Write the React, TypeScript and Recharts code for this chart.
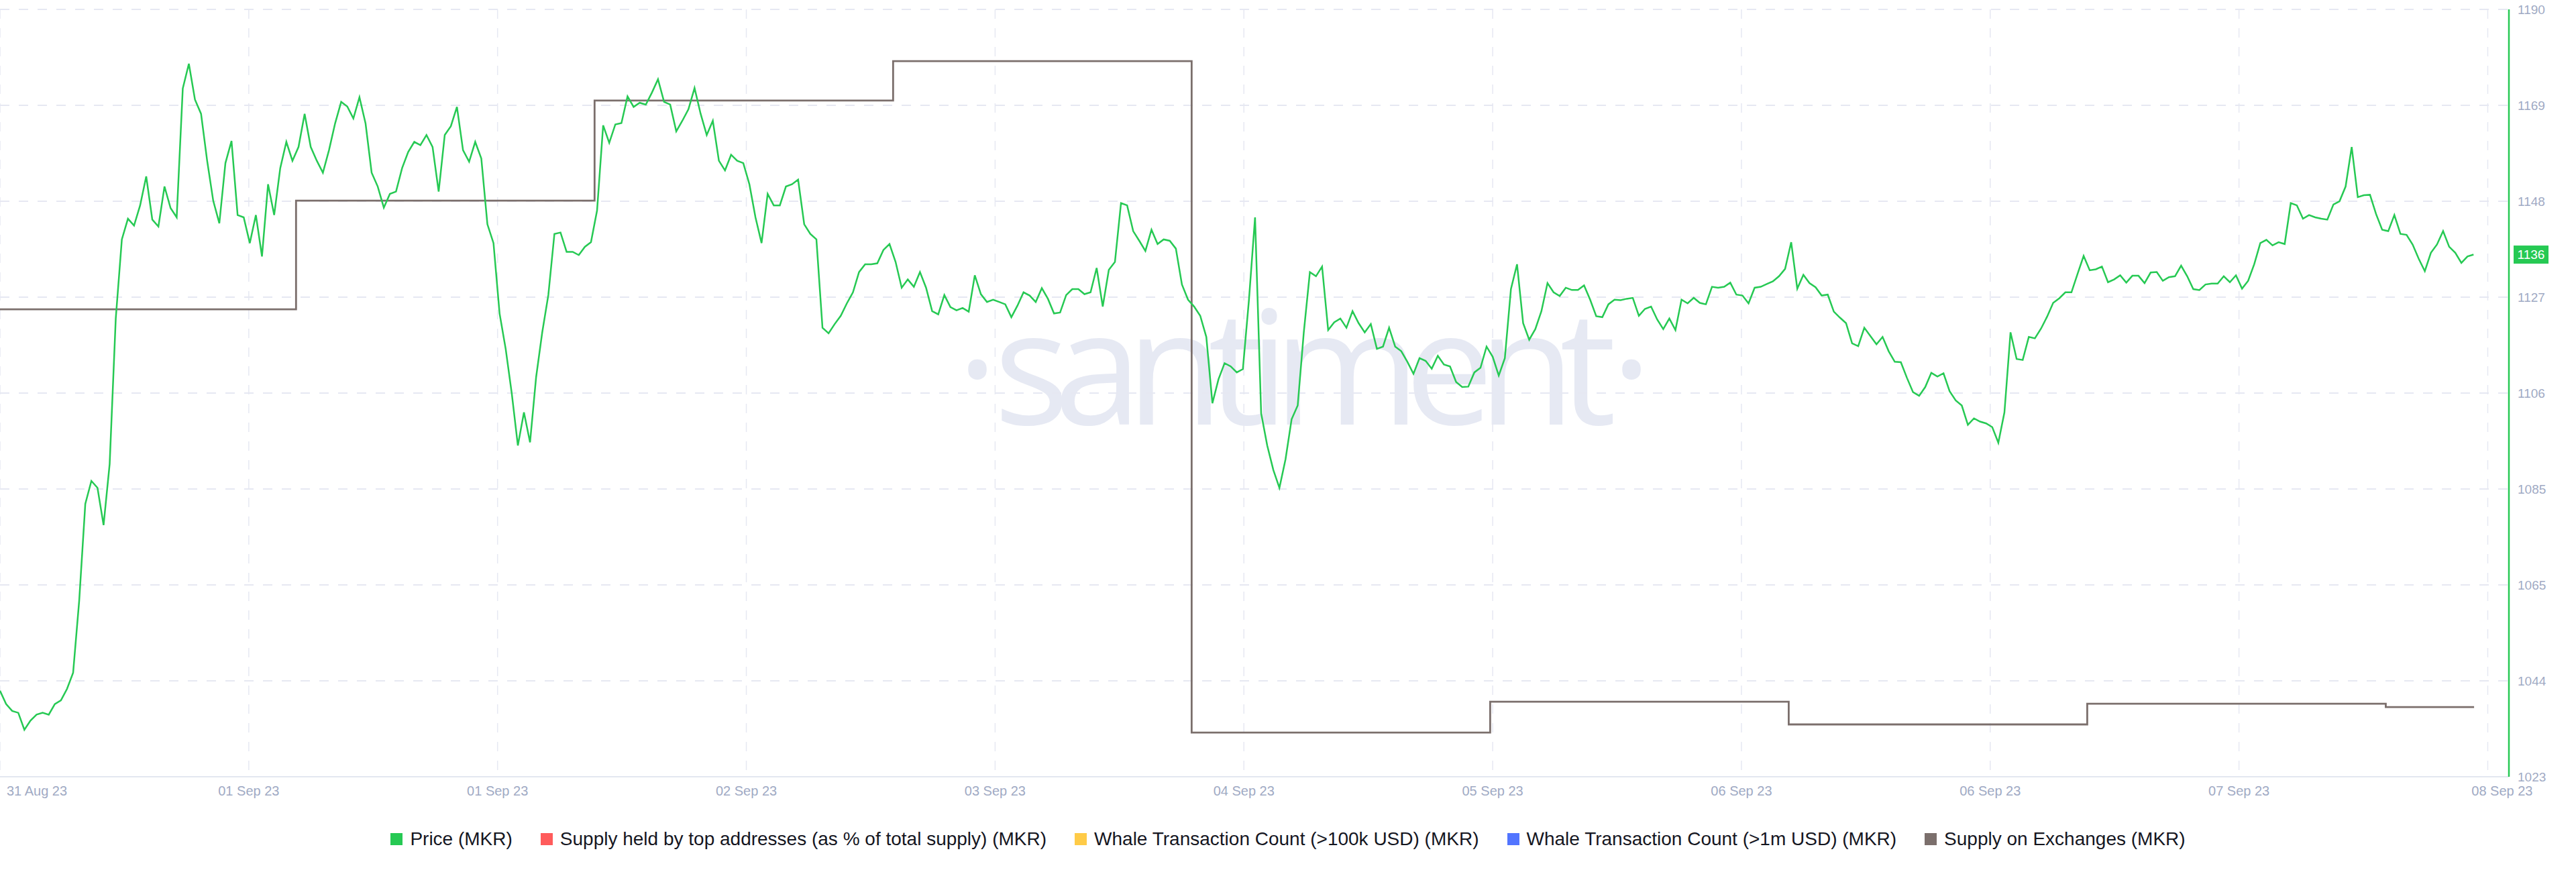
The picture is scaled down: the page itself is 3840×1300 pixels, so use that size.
import { LineChart, Line, XAxis, YAxis, CartesianGrid, Legend, ReferenceLine } from "recharts";

// MKR price, one sample every 24/49 h
const priceValues = [
  1042.1, 1039.2, 1037.7, 1037.3, 1033.6, 1035.6, 1036.9, 1037.3, 1036.9, 1039.2,
  1040.0, 1042.5, 1046.0, 1061.7, 1082.7, 1087.7, 1086.2, 1078.1, 1091.4, 1123.0,
  1140.2, 1144.7, 1143.2, 1147.6, 1153.9, 1144.5, 1143.0, 1151.7, 1147.0, 1145.0,
  1173.0, 1178.4, 1170.6, 1167.5, 1157.3, 1148.6, 1143.7, 1156.8, 1161.6, 1145.5,
  1145.0, 1139.4, 1145.5, 1136.5, 1152.2, 1145.5, 1155.7, 1161.4, 1157.3, 1160.3,
  1167.5, 1160.3, 1157.3, 1154.7, 1159.6, 1165.4, 1170.1, 1169.1, 1166.5, 1171.1,
  1165.4, 1154.7, 1151.7, 1147.1, 1150.1, 1150.6, 1155.7, 1159.2, 1161.4, 1160.7,
  1162.9, 1160.3, 1150.6, 1162.9, 1164.8, 1169.0, 1159.6, 1157.1, 1161.4, 1157.8,
  1143.5, 1139.4, 1124.1, 1116.4, 1106.7, 1095.4, 1102.6, 1096.1, 1110.3, 1120.0,
  1128.1, 1141.4, 1141.7, 1137.5, 1137.5, 1136.8, 1138.6, 1139.6, 1146.5, 1165.0,
  1161.2, 1165.2, 1165.5, 1171.3, 1169.0, 1169.9, 1169.5, 1172.1, 1175.0, 1170.1,
  1169.5, 1163.7, 1166.0, 1168.5, 1173.1, 1167.5, 1162.9, 1166.0, 1157.3, 1155.2,
  1158.6, 1157.3, 1156.8, 1152.2, 1145.0, 1139.4, 1150.1, 1147.6, 1147.6, 1151.7,
  1152.2, 1153.2, 1143.5, 1141.4, 1140.2, 1121.0, 1119.8, 1121.8,
  1123.6, 1126.3, 1128.7, 1133.1, 1134.8, 1134.8, 1135.0, 1137.9, 1139.2, 1135.3,
  1129.7, 1131.5, 1129.9, 1133.1, 1129.7, 1124.6, 1123.9, 1128.1, 1125.5, 1124.8,
  1125.3, 1124.5, 1132.4, 1128.3, 1126.6, 1127.1, 1126.6, 1126.1, 1123.3, 1125.8,
  1128.7, 1128.0, 1126.6, 1129.6, 1127.3, 1124.1, 1124.3, 1128.1, 1129.4, 1129.4,
  1128.3, 1128.7, 1134.0, 1125.6, 1133.6, 1135.3, 1148.1, 1147.6, 1142.0, 1139.9,
  1137.7, 1142.3, 1139.2, 1140.2, 1139.9, 1138.2, 1130.4, 1127.1, 1125.6, 1123.6,
  1119.0, 1104.6, 1109.8, 1113.3, 1112.6, 1111.3, 1112.0, 1127.1, 1145.0, 1102.4,
  1095.4, 1090.1, 1086.2, 1092.4, 1101.1, 1104.1, 1120.0, 1133.1, 1132.2, 1134.3,
  1120.5, 1122.2, 1123.0, 1121.0, 1124.6, 1122.0, 1120.0, 1121.8, 1116.4, 1116.9,
  1121.0, 1116.9, 1115.9, 1113.6, 1111.0, 1114.4, 1113.8, 1112.1, 1114.9, 1113.0,
  1112.6, 1109.2, 1108.1, 1108.2, 1111.3, 1112.3, 1116.9, 1114.7, 1110.6, 1114.4,
  1129.4, 1134.8, 1122.0, 1118.4, 1120.7, 1124.6, 1130.7, 1128.7, 1127.9, 1129.7,
  1129.2, 1129.2, 1130.2, 1127.1, 1123.5, 1123.3, 1126.1, 1127.1, 1127.0, 1127.3,
  1127.5, 1123.6, 1125.1, 1125.6, 1122.8, 1120.7, 1123.0,
  1120.5, 1127.1, 1126.3, 1127.5, 1126.4, 1126.1, 1129.9, 1129.7, 1129.9, 1130.8,
  1128.2, 1128.0, 1126.3, 1129.7, 1129.9, 1130.5, 1131.1, 1132.2, 1133.8, 1139.6,
  1129.5, 1132.5, 1130.7, 1129.8, 1128.0, 1128.2, 1124.5, 1123.2, 1122.0, 1117.6,
  1117.0, 1121.0, 1119.2, 1117.4, 1119.0, 1115.9, 1113.6, 1113.5, 1110.1, 1107.0,
  1106.2, 1108.1, 1111.2, 1110.4, 1111.1, 1107.2, 1105.2, 1104.1, 1099.9, 1101.3,
  1100.6, 1100.2, 1099.4, 1096.0, 1102.6, 1120.0, 1114.2, 1114.0, 1119.0, 1118.7,
  1120.8, 1123.4, 1126.4, 1127.4, 1128.7, 1128.7, 1132.7, 1136.6, 1133.5, 1133.7,
  1134.3, 1130.9, 1131.5, 1132.4, 1130.8, 1132.3, 1132.3, 1130.7, 1133.0, 1133.1,
  1131.2, 1132.0, 1132.2, 1134.5, 1132.2, 1129.4, 1129.2, 1130.4, 1130.6, 1130.6,
  1132.2, 1130.9, 1132.4, 1129.5, 1131.2, 1134.8, 1139.4, 1140.1, 1138.9, 1139.6,
  1139.2, 1148.1, 1147.6, 1144.7, 1145.5, 1145.0, 1144.7, 1144.5, 1147.8, 1148.5,
  1151.7, 1160.3, 1149.4, 1149.8, 1149.9, 1145.7, 1142.3, 1142.0, 1145.5, 1141.4,
  1141.2, 1139.1, 1136.0, 1133.3, 1137.3, 1139.1, 1142.0, 1138.6, 1137.3, 1135.1,
  1136.5, 1136.9,
];
const hoursPerSample = 24 / 49;

// supply on exchanges (MKR), daily values
const supplyHours = [0, 23.8, 47.8, 71.8, 95.8, 119.8, 143.8, 167.8, 191.8, 198.9];
const supplyValues = [121655, 122505, 123287, 123596, 118346, 118587, 118409, 118571, 118545, 118545];

const xTicks = [0, 20, 40, 60, 80, 100, 120, 140, 160, 180, 200];
const xTickLabels = [
  "31 Aug 23", "01 Sep 23", "01 Sep 23", "02 Sep 23", "03 Sep 23", "04 Sep 23",
  "05 Sep 23", "06 Sep 23", "06 Sep 23", "07 Sep 23", "08 Sep 23",
];
const priceTicks = [1023.4, 1044.25, 1065.1, 1085.95, 1106.8, 1127.65, 1148.5, 1169.35, 1190.2];

const legendItems = [
  { name: "Price (MKR)", color: "#26c953" },
  { name: "Supply held by top addresses (as % of total supply) (MKR)", color: "#ff5b5b" },
  { name: "Whale Transaction Count (>100k USD) (MKR)", color: "#ffcb47" },
  { name: "Whale Transaction Count (>1m USD) (MKR)", color: "#5275ff" },
  { name: "Supply on Exchanges (MKR)", color: "#7b6f6c" },
];

const GREEN = "#26c953";
const BROWN = "#7b6f6c";
const AXIS_TEXT = "#9faac4";
const GRID = "#e6e8f2";
const FONT = "'Liberation Sans', Arial, sans-serif";

const priceData = priceValues.map((v, i) => ({ h: i * hoursPerSample, price: v }));
const supplyData = supplyValues.map((v, i) => ({ h: supplyHours[i], supply: v }));
const lastPrice = priceValues[priceValues.length - 1];

function XTick(props: any) {
  const { x, y, index } = props;
  const first = index === 0;
  const last = index === xTickLabels.length - 1;
  return (
    <text x={first ? x + 10 : last ? x + 67 : x} y={y + 21}
      textAnchor={first ? "start" : last ? "end" : "middle"} dominantBaseline="central"
      fill={AXIS_TEXT} fontSize={20} fontFamily={FONT}>
      {xTickLabels[index]}
    </text>
  );
}

function YTick(props: any) {
  const { x, y, payload } = props;
  return (
    <text x={x + 13} y={y} textAnchor="start" dominantBaseline="central"
      fill={AXIS_TEXT} fontSize={19} fontFamily={FONT}>
      {Math.floor(payload.value)}
    </text>
  );
}

function PriceBadge(props: any) {
  const vb = props.viewBox || {};
  const x = vb.x + vb.width + 7;
  const y = vb.y;
  return (
    <g>
      <rect x={x} y={y - 13.5} width={52} height={27} fill={GREEN} />
      <text x={x + 26} y={y} textAnchor="middle" dominantBaseline="central"
        fill="#fff" fontSize={19} fontFamily={FONT}>
        {Math.floor(lastPrice)}
      </text>
    </g>
  );
}

function LegendBox() {
  return (
    <div style={{ display: "flex", justifyContent: "center", alignItems: "center", gap: 42, height: 38,
      fontFamily: FONT, fontSize: 28, color: "#15161f", whiteSpace: "nowrap" }}>
      {legendItems.map(it => (
        <div key={it.name} style={{ display: "flex", alignItems: "center", gap: 11 }}>
          <span style={{ width: 18, height: 18, background: it.color, display: "inline-block" }} />
          <span>{it.name}</span>
        </div>
      ))}
    </div>
  );
}

export default function App() {
  return (
    <div style={{ position: "absolute", left: 0, top: 0, width: 3840, height: 1300, background: "#fff" }}>
      <svg width={3840} height={1300} style={{ position: "absolute", left: 0, top: 0 }}>
        <g fill="#e6e9f3" fontFamily="'Open Sans', sans-serif" fontSize={236}>
          <text x={1457} y={633} textAnchor="middle">·</text>
          <text x={1934} y={633} textAnchor="middle" letterSpacing={-23}>santiment</text>
          <text x={2432} y={633} textAnchor="middle">·</text>
        </g>
      </svg>
      <div style={{ position: "absolute", left: 0, top: 0 }}>
        <LineChart width={3840} height={1300} margin={{ top: 14, right: 0, bottom: 0, left: 0 }}>
          <CartesianGrid yAxisId="price" vertical={false} stroke={GRID} strokeWidth={2} strokeDasharray="14 14" />
          <CartesianGrid yAxisId="price" horizontal={false} stroke={GRID} strokeWidth={1.5} strokeDasharray="14 14" />
          <XAxis dataKey="h" type="number" domain={[0, 201.7]} ticks={xTicks} interval={0}
            height={142} tickSize={0} tickMargin={0} tickLine={false}
            axisLine={{ stroke: "#e3e7f0", strokeWidth: 2 }} tick={<XTick />} />
          <YAxis yAxisId="price" orientation="right" width={100} domain={[1023.4, 1190.2]}
            ticks={priceTicks} interval={0} tickSize={0} tickMargin={0} tickLine={false}
            axisLine={{ stroke: GREEN, strokeWidth: 2.5 }} tick={<YTick />} />
          <YAxis yAxisId="supply" hide domain={[118000, 124000]} />
          <Line yAxisId="supply" data={supplyData} dataKey="supply" type="stepAfter" stroke={BROWN}
            strokeWidth={2.8} dot={false} activeDot={false} isAnimationActive={false} />
          <Line yAxisId="price" data={priceData} dataKey="price" type="linear" stroke={GREEN}
            strokeWidth={2.5} dot={false} activeDot={false} isAnimationActive={false} />
          <ReferenceLine yAxisId="price" y={lastPrice} stroke="none"
            label={(p: any) => <PriceBadge {...p} />} />
          <Legend verticalAlign="middle" align="center" layout="horizontal"
            wrapperStyle={{ top: 1232, left: 0, width: 3840, height: 38 }}
            content={() => <LegendBox />} />
        </LineChart>
      </div>
    </div>
  );
}
